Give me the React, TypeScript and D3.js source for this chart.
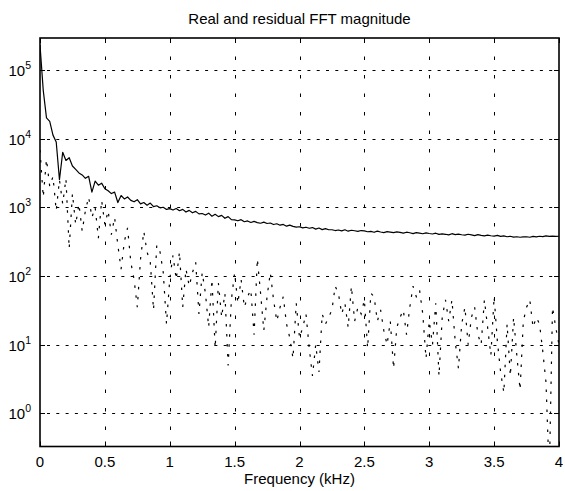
import React, { useRef, useEffect } from 'react';
import * as d3 from 'd3';

// FFT bin spacing in kHz, 161 bins from 0 to 4 kHz
const binWidthKHz = 0.025;

const realMagnitude = [
  229000, 50100, 19950, 17800, 11200, 8900, 2510, 6310, 4790, 5250,
  3980, 3550, 3160, 2950, 2630, 2820, 1660, 2400, 2090, 2240,
  1860, 1740, 1580, 1660, 1170, 1480, 1320, 1410, 1260, 1200,
  1290, 1120, 1170, 1070, 1150, 1020, 1050, 980, 1000, 930,
  955, 910, 960, 890, 930, 850, 900, 830, 870, 800,
  810, 770, 820, 740, 790, 730, 760, 690, 730, 660,
  655, 635, 660, 615, 632, 600, 622, 598, 585, 606,
  580, 590, 560, 575, 548, 562, 530, 548, 526, 515,
  520, 500, 512, 494, 506, 480, 498, 472, 488, 470,
  470, 458, 466, 452, 470, 448, 462, 455, 446, 458,
  452, 440, 446, 432, 450, 436, 428, 441, 433, 426,
  437, 430, 420, 433, 425, 414, 428, 419, 411, 424,
  415, 408, 419, 402, 410, 404, 396, 412, 400, 406,
  398, 392, 404, 396, 386, 399, 390, 384, 393, 385,
  380, 389, 376, 382, 372, 378, 368, 372, 366, 370,
  372, 366, 376, 370, 378, 374, 382, 376, 380, 377,
  378,
];

const residualMagnitude = [
  6800, 1400, 5000, 2000, 2800, 890, 2500, 1120, 2600, 250,
  1580, 560, 1120, 450, 890, 1410, 710, 1000, 355, 1260,
  560, 890, 400, 710, 280, 126, 316, 500, 158, 89,
  35, 178, 447, 224, 158, 32, 282, 224, 112, 20,
  89, 200, 89, 224, 35, 126, 71, 112, 158, 28,
  112, 56, 18, 89, 8.9, 79, 25, 56, 5, 45,
  112, 40, 89, 35, 50, 63, 14, 178, 56, 16,
  50, 112, 45, 22, 35, 50, 20, 12.6, 6.3, 40,
  12.6, 17.8, 28, 8.9, 3.5, 10, 4, 28, 20, 25,
  32, 71, 56, 28, 40, 17.8, 71, 22, 35, 28,
  45, 8.9, 56, 50, 22, 32, 16, 10, 22, 4.5,
  17.8, 25, 32, 14, 35, 71, 50, 63, 28, 6.3,
  22, 10, 40, 3.5, 25, 45, 22, 45, 11.2, 4.5,
  20, 35, 10, 25, 35, 14, 10, 45, 17.8, 7,
  50, 11.2, 4, 2, 20, 3.5, 25, 7, 2.2, 22,
  35, 45, 17.8, 25, 20, 8, 2.8, 0.12, 35, 17.8,
  10,
];

const xTicks = [0, 0.5, 1, 1.5, 2, 2.5, 3, 3.5, 4];
const xTickLabels = ['0', '0.5', '1', '1.5', '2', '2.5', '3', '3.5', '4'];
const yTickExponents = [0, 1, 2, 3, 4, 5];

const title = 'Real and residual FFT magnitude';
const xLabel = 'Frequency (kHz)';

const App = () => {
  const ref = useRef<SVGSVGElement | null>(null);

  useEffect(() => {
    document.body.style.margin = '0';
    if (!ref.current) return;
    const svg = d3.select(ref.current);
    svg.selectAll('*').remove();

    const W = 565, H = 491;
    const left = 40, right = 559, top = 38, bottom = 446.5;
    const font = '"Liberation Sans", Arial, sans-serif';

    const x = d3.scaleLinear().domain([0, 4]).range([left, right]);
    const y = d3.scaleLog().domain([0.33, 2.9e5]).range([bottom, top]);

    svg.append('rect').attr('width', W).attr('height', H).attr('fill', '#fff');

    svg.append('defs').append('clipPath').attr('id', 'plotclip')
      .append('rect')
      .attr('x', left).attr('y', top)
      .attr('width', right - left).attr('height', bottom - top);

    const grid = svg.append('g').attr('stroke', '#000').attr('stroke-width', 1);
    grid.selectAll('.hgrid')
      .data(yTickExponents)
      .enter()
      .append('line')
      .attr('x1', left).attr('x2', right)
      .attr('y1', d => Math.round(y(Math.pow(10, d))) + 0.5)
      .attr('y2', d => Math.round(y(Math.pow(10, d))) + 0.5)
      .attr('stroke-dasharray', '3,6.3')
      .attr('stroke-dashoffset', -7);
    grid.selectAll('.vgrid')
      .data(xTicks.slice(1, -1))
      .enter()
      .append('line')
      .attr('x1', d => Math.round(x(d)) + 0.5)
      .attr('x2', d => Math.round(x(d)) + 0.5)
      .attr('y1', top).attr('y2', bottom)
      .attr('stroke-dasharray', '3.5,15');

    const line = d3.line<number>()
      .x((d, i) => x(i * binWidthKHz))
      .y(d => y(d));

    const plot = svg.append('g').attr('clip-path', 'url(#plotclip)');

    plot.append('path')
      .datum(residualMagnitude)
      .attr('fill', 'none')
      .attr('stroke', '#000')
      .attr('stroke-width', 1.2)
      .attr('stroke-dasharray', '2.5,7.5')
      .attr('d', line);

    plot.append('path')
      .datum(realMagnitude)
      .attr('fill', 'none')
      .attr('stroke', '#000')
      .attr('stroke-width', 1.2)
      .attr('stroke-linejoin', 'round')
      .attr('d', line);

    // ticks pointing inward
    const ticks = svg.append('g').attr('stroke', '#000').attr('stroke-width', 1);
    xTicks.forEach(t => {
      const px = Math.round(x(t)) + 0.5;
      ticks.append('line').attr('x1', px).attr('x2', px).attr('y1', bottom).attr('y2', bottom - 5);
      ticks.append('line').attr('x1', px).attr('x2', px).attr('y1', top).attr('y2', top + 5);
    });
    yTickExponents.forEach(e => {
      const py = Math.round(y(Math.pow(10, e))) + 0.5;
      ticks.append('line').attr('x1', left).attr('x2', left + 5).attr('y1', py).attr('y2', py);
      ticks.append('line').attr('x1', right).attr('x2', right - 5).attr('y1', py).attr('y2', py);
    });

    svg.append('rect')
      .attr('x', left).attr('y', top)
      .attr('width', right - left).attr('height', bottom - top)
      .attr('fill', 'none')
      .attr('stroke', '#000')
      .attr('stroke-width', 1.6);

    svg.selectAll('.xlab')
      .data(xTicks)
      .enter()
      .append('text')
      .attr('x', d => x(d))
      .attr('y', 467)
      .attr('text-anchor', 'middle')
      .attr('font-family', font)
      .attr('font-size', 15)
      .text((d, i) => xTickLabels[i]);

    const ylab = svg.selectAll('.ylab')
      .data(yTickExponents)
      .enter()
      .append('text')
      .attr('x', 31)
      .attr('y', d => y(Math.pow(10, d)) + 6)
      .attr('text-anchor', 'end')
      .attr('font-family', font)
      .attr('font-size', 15);
    ylab.append('tspan').text('10');
    ylab.append('tspan')
      .attr('font-size', 10.5)
      .attr('dy', -7)
      .text(d => String(d));

    svg.append('text')
      .attr('x', (left + right) / 2)
      .attr('y', 24)
      .attr('text-anchor', 'middle')
      .attr('font-family', font)
      .attr('font-size', 15)
      .text(title);

    svg.append('text')
      .attr('x', (left + right) / 2)
      .attr('y', 484)
      .attr('text-anchor', 'middle')
      .attr('font-family', font)
      .attr('font-size', 15)
      .text(xLabel);
  }, []);

  return <svg ref={ref} width={565} height={491} style={{ display: 'block' }} />;
};

export default App;
